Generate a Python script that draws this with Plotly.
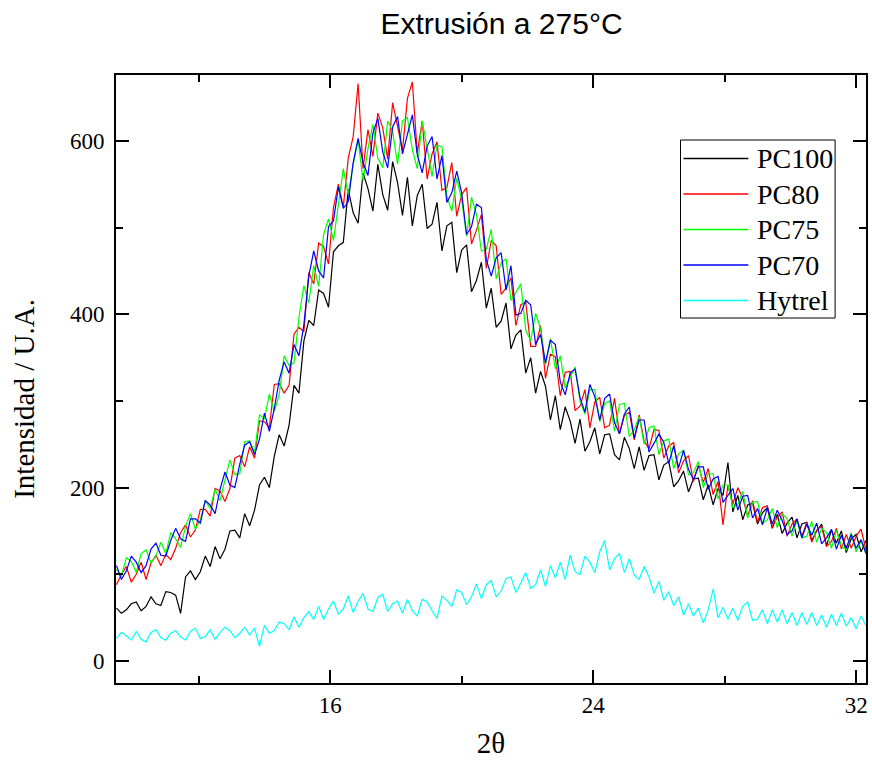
import plotly.graph_objects as go

# ---- Data ----
series_names = ["PC100", "PC80", "PC75", "PC70", "Hytrel"]
series_colors = ["#000000", "#ff0000", "#00ff00", "#0000ff", "#00ffff"]

two_theta_start = 9.5   # first 2θ value of the scan
two_theta_step = 0.15   # scan step (degrees)

pc100 = [61,55,59,66,68,58,63,74,66,64,
         80,79,76,55,97,104,94,103,121,109,
         132,118,129,150,151,142,170,156,174,203,
         212,200,236,261,248,272,318,309,369,393,
         387,428,424,408,472,479,483,544,517,505,
         563,545,519,573,538,520,576,552,514,558,
         502,537,550,499,504,529,473,502,506,448,
         474,480,426,439,460,407,430,385,392,413,
         360,376,382,332,350,309,334,317,278,306,
         267,293,277,251,279,242,253,269,239,261,
         262,238,232,258,245,222,247,220,237,238,
         209,226,230,201,208,219,195,210,211,186,
         203,180,199,191,229,172,191,163,180,182,
         158,171,177,153,169,147,159,166,142,158,
         160,139,150,158,133,151,136,150,125,141,
         146,126,139]

pc80 = [88,100,109,91,100,114,94,113,122,110,
        123,117,130,148,157,143,151,175,175,167,
        199,196,184,199,234,237,224,247,234,277,
        276,269,319,320,309,318,377,385,380,448,
        435,482,478,458,523,550,524,580,605,666,
        568,613,582,632,615,579,644,616,589,649,
        668,586,623,556,585,599,543,546,575,513,
        538,546,481,497,515,453,485,479,423,430,
        442,387,411,414,363,363,387,326,354,351,
        306,333,334,289,294,313,269,299,304,269,
        272,303,262,283,287,255,284,254,245,267,
        266,234,248,252,217,231,237,207,226,206,
        222,192,207,157,203,181,200,188,167,185,
        160,177,179,154,166,172,144,158,164,144,
        160,137,151,155,132,138,153,129,146,130,
        144,152,128]

pc75 = [106,98,119,115,102,124,128,113,121,137,
        124,148,141,131,155,170,152,163,185,176,
        198,185,209,232,215,216,253,254,241,284,
        279,308,288,307,352,341,344,396,433,413,
        456,432,492,510,485,526,568,538,573,601,
        554,591,619,580,569,623,611,573,623,627,
        590,568,623,592,559,595,593,536,519,557,
        532,490,535,515,473,475,498,441,459,464,
        416,425,435,382,369,401,383,342,372,337,
        352,315,328,339,300,285,313,313,276,297,
        300,265,296,297,259,267,282,250,269,271,
        238,254,256,222,239,243,215,217,230,200,
        216,216,187,203,203,177,180,196,165,183,
        184,159,163,176,154,170,164,144,162,142,
        144,161,137,153,148,130,151,133,128,148,
        126,138,124]

pc70 = [110,94,104,121,114,102,110,129,136,122,
        121,139,153,141,138,164,164,159,185,180,
        170,198,218,203,200,227,249,253,238,256,
        286,265,291,324,345,332,365,352,388,444,
        473,450,442,501,508,547,522,530,575,603,
        575,560,609,626,587,569,616,628,585,606,
        630,584,563,594,605,556,583,529,540,565,
        540,492,501,527,523,463,444,465,471,428,
        456,399,401,416,411,365,377,344,370,365,
        322,307,332,337,304,287,319,305,278,303,
        308,275,262,285,293,257,278,278,241,251,
        262,252,228,248,223,243,221,209,224,224,
        198,210,213,183,191,199,174,190,191,165,
        176,157,177,158,174,162,146,150,164,142,
        158,145,159,135,142,152,129,145,130,146,
        130,140,124]

hytrel = [26,33,29,24,34,25,22,33,36,27,
          24,32,35,28,24,34,38,26,28,36,
          25,33,39,35,27,32,39,30,38,17,
          41,32,35,45,43,36,51,39,50,57,
          48,63,48,60,69,54,60,75,56,69,
          78,60,57,73,77,57,66,69,55,71,
          58,52,71,68,58,49,75,70,63,82,
          79,65,74,89,72,88,93,74,81,95,
          97,79,90,102,84,88,105,86,110,96,
          114,94,122,103,100,121,114,102,126,139,
          105,118,124,102,118,99,94,109,97,78,
          92,70,80,64,74,53,66,52,61,44,
          59,83,50,62,48,61,47,63,68,47,
          48,59,43,59,45,59,43,56,41,56,
          42,56,41,53,39,54,41,55,40,50,
          37,52,41]

series_values = [pc100, pc80, pc75, pc70, hytrel]

x_major_ticks = [16, 24, 32]
x_minor_ticks = [12, 20, 28]
y_major_ticks = [0, 200, 400, 600]
y_minor_ticks = [100, 300, 500]

title_text = "Extrusión a 275°C"
x_title = "2θ"
y_title = "Intensidad / U.A."

# ---- Figure ----
n_points = len(pc100)
two_theta = [round(two_theta_start + i * two_theta_step, 2) for i in range(n_points)]

fig = go.Figure()
for name, color, vals in zip(series_names, series_colors, series_values):
    fig.add_trace(go.Scatter(x=two_theta, y=vals, mode="lines", name=name,
                             line=dict(color=color, width=1.2), showlegend=False))

serif = "Liberation Serif, Times New Roman, serif"

axis_common = dict(ticks="inside", ticklen=13, tickwidth=2, tickcolor="black",
                   showline=True, linewidth=2, linecolor="black", mirror="allticks",
                   showgrid=False, zeroline=False,
                   tickfont=dict(family=serif, size=23, color="black"))

fig.update_xaxes(range=[9.485, 32.3], tickmode="array", tickvals=x_major_ticks,
                 minor=dict(tickmode="array", tickvals=x_minor_ticks, ticks="inside",
                            ticklen=7, tickwidth=2, tickcolor="black", showgrid=False),
                 title=dict(text=x_title, font=dict(family=serif, size=29, color="black"),
                            standoff=16),
                 **axis_common)
fig.update_yaxes(range=[-25.4, 676], tickmode="array", tickvals=y_major_ticks,
                 ticklabelstandoff=5,
                 minor=dict(tickmode="array", tickvals=y_minor_ticks, ticks="inside",
                            ticklen=7, tickwidth=2, tickcolor="black", showgrid=False),
                 **axis_common)

# y-axis title as rotated annotation
annotations = [dict(text=y_title, xref="paper", yref="paper", x=-0.123, y=0.467,
                    xanchor="center", yanchor="middle", textangle=-90, showarrow=False,
                    font=dict(family=serif, size=29, color="black"))]

# legend box drawn in paper coordinates
shapes = [dict(type="rect", xref="paper", yref="paper", x0=0.7527, x1=0.9588,
               y0=0.6003, y1=0.8931, line=dict(color="black", width=1),
               fillcolor="white", layer="above")]
row_top_px = 158.5
row_step_px = 35.5
for i, (name, color) in enumerate(zip(series_names, series_colors)):
    yp = (683 - (row_top_px + row_step_px * i)) / 608
    shapes.append(dict(type="line", xref="paper", yref="paper", x0=0.7566, x1=0.8431,
                       y0=yp, y1=yp, line=dict(color=color, width=1.3), layer="above"))
    annotations.append(dict(text=name, xref="paper", yref="paper", x=0.8524, y=yp,
                            xanchor="left", yanchor="middle", showarrow=False,
                            font=dict(family=serif, size=28, color="black")))

fig.update_layout(
    width=872, height=767,
    margin=dict(l=116, r=4, t=75, b=84),
    paper_bgcolor="white", plot_bgcolor="white",
    showlegend=False,
    title=dict(text=title_text, x=0.5751, xanchor="center", y=0.969, yanchor="middle",
               font=dict(family="Liberation Sans, Arial, sans-serif", size=30, color="black")),
    shapes=shapes, annotations=annotations,
)

fig.write_html("out.html")
